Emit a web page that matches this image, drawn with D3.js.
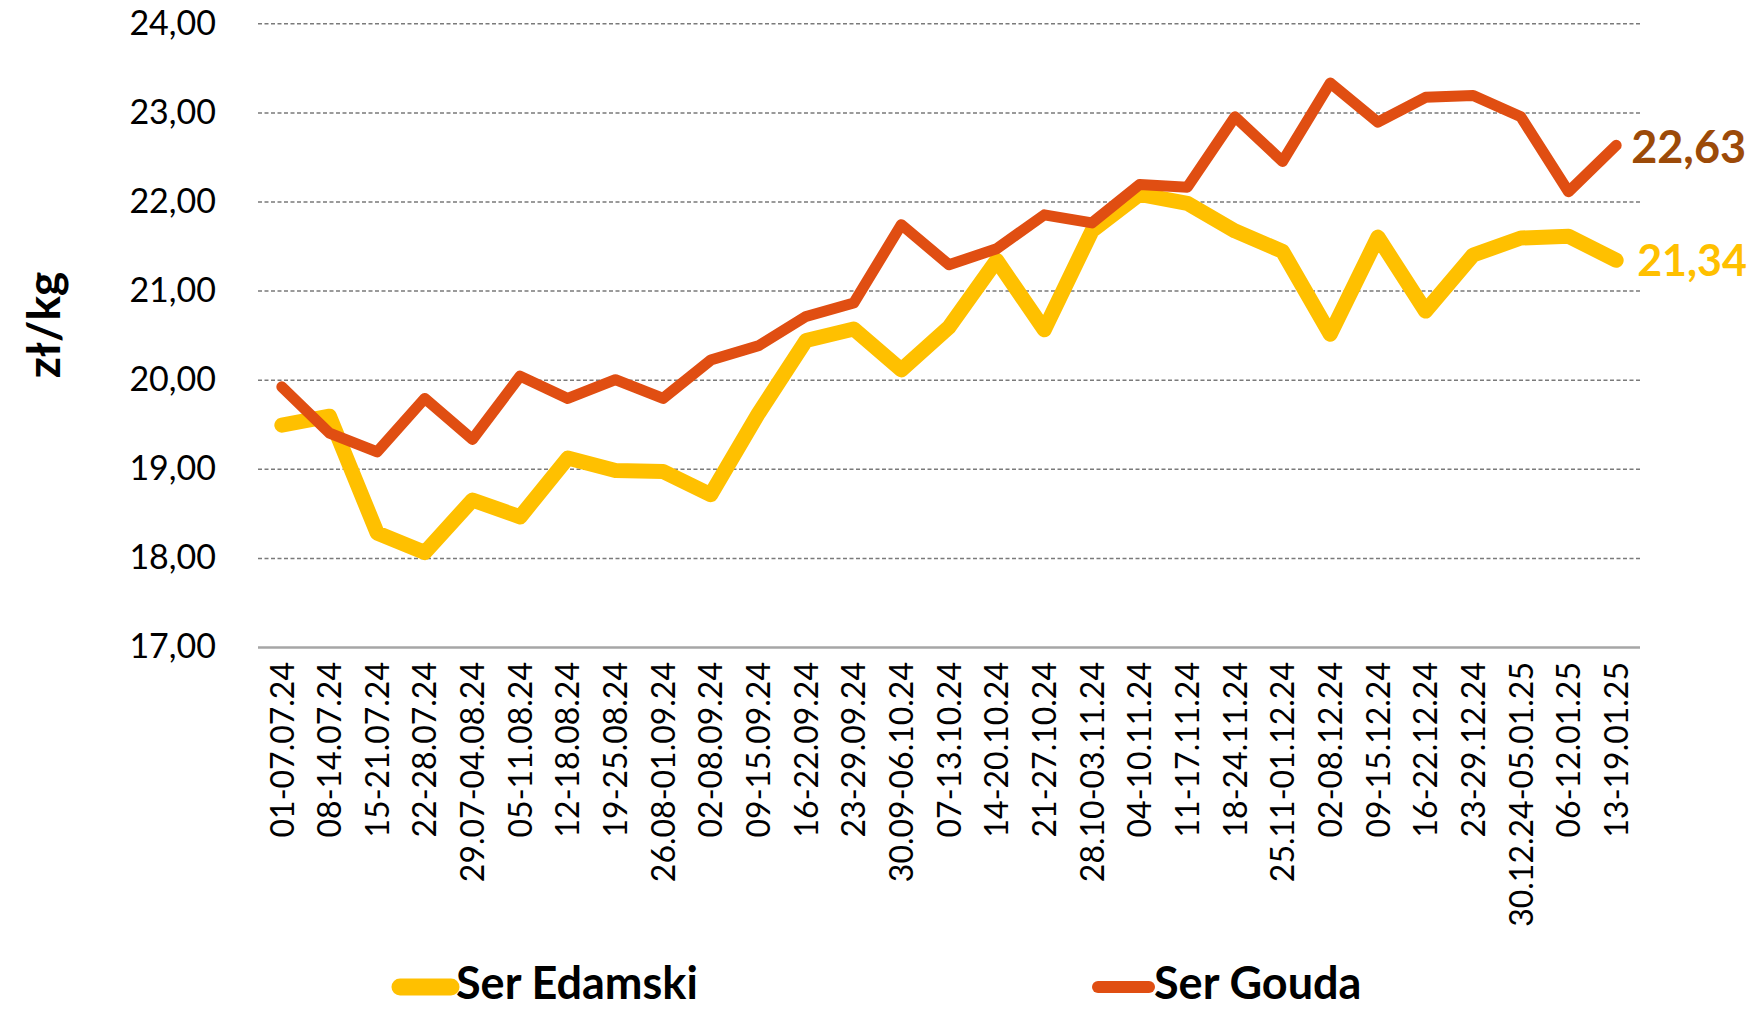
<!DOCTYPE html>
<html>
<head>
<meta charset="utf-8">
<script src="https://cdn.jsdelivr.net/npm/d3@7"></script>
<style>
  body { margin: 0; background: #fff; }
  svg { display: block; font-family: Lato, "Open Sans", sans-serif; }
</style>
</head>
<body>
<div id="chart"></div>
<script>
// tygodnie notowań
let categories = [
    "01-07.07.24", "08-14.07.24", "15-21.07.24", "22-28.07.24", "29.07-04.08.24",
    "05-11.08.24", "12-18.08.24", "19-25.08.24", "26.08-01.09.24", "02-08.09.24",
    "09-15.09.24", "16-22.09.24", "23-29.09.24", "30.09-06.10.24", "07-13.10.24",
    "14-20.10.24", "21-27.10.24", "28.10-03.11.24", "04-10.11.24", "11-17.11.24",
    "18-24.11.24", "25.11-01.12.24", "02-08.12.24", "09-15.12.24", "16-22.12.24",
    "23-29.12.24", "30.12.24-05.01.25", "06-12.01.25", "13-19.01.25"
];

// ceny zł/kg
let edamski = [
    19.49, 19.59, 18.28, 18.06, 18.65, 18.46, 19.12, 18.98, 18.97, 18.71,
    19.62, 20.44, 20.57, 20.11, 20.59, 21.34, 20.56, 21.67, 22.08, 21.98,
    21.67, 21.44, 20.51, 21.60, 20.77, 21.40, 21.59, 21.61, 21.34
];
let gouda = [
    19.92, 19.40, 19.19, 19.79, 19.33, 20.04, 19.79, 20.00, 19.79, 20.22,
    20.38, 20.71, 20.86, 21.74, 21.29, 21.47, 21.85, 21.76, 22.19, 22.16,
    22.95, 22.45, 23.33, 22.89, 23.17, 23.19, 22.95, 22.11, 22.63
];

let yTicks = [17, 18, 19, 20, 21, 22, 23, 24];

let width = 1751;
let height = 1009;
let plotLeft = 258, plotRight = 1640, plotTop = 23.3, plotBottom = 647;

let fmt = function (v) { return d3.format(".2f")(v).replace(".", ","); };

let svg = d3.select("#chart")
    .append("svg")
    .attr("width", width)
    .attr("height", height);

let x = d3.scalePoint().domain(categories).range([plotLeft, plotRight]).padding(0.5);
let y = d3.scaleLinear().domain([17, 24]).range([plotBottom, plotTop]);

// linie siatki
let grid = svg.append("g")
    .attr("transform", "translate(" + plotLeft + ",0)")
    .call(d3.axisLeft(y).tickValues(yTicks).tickSize(-(plotRight - plotLeft)).tickFormat(""));
grid.select(".domain").remove();
grid.selectAll("line")
    .attr("stroke", "#7a7a7a")
    .attr("stroke-width", 1.5)
    .attr("stroke-dasharray", "4,2.5");
grid.selectAll(".tick").filter(function (d) { return d === 17; }).select("line")
    .attr("stroke", "#a6a6a6")
    .attr("stroke-width", 2.5)
    .attr("stroke-dasharray", null);

// oś Y
let yAxis = svg.append("g")
    .attr("transform", "translate(" + plotLeft + ",0)")
    .call(d3.axisLeft(y).tickValues(yTicks).tickSize(0).tickPadding(42).tickFormat(fmt));
yAxis.select(".domain").remove();
yAxis.selectAll("text")
    .attr("font-size", "34px")
    .attr("fill", "#000")
    .attr("font-family", "Lato, sans-serif");

// oś X
let xAxis = svg.append("g")
    .attr("transform", "translate(0," + plotBottom + ")")
    .call(d3.axisBottom(x).tickSize(0));
xAxis.select(".domain").remove();
xAxis.selectAll("text")
    .attr("transform", "rotate(-90)")
    .attr("text-anchor", "end")
    .attr("x", -15)
    .attr("y", 0)
    .attr("dy", "0.35em")
    .attr("font-size", "32px")
    .attr("fill", "#000")
    .attr("font-family", "Lato, sans-serif");

// tytuł osi
svg.append("text")
    .attr("transform", "translate(60,325) rotate(-90)")
    .attr("text-anchor", "middle")
    .attr("font-size", "46px")
    .attr("font-weight", "bold")
    .attr("fill", "#000")
    .text("zł/kg");

// linie serii
let line = d3.line()
    .x(function (d, i) { return x(categories[i]); })
    .y(function (d) { return y(d); });

svg.append("path")
    .datum(edamski)
    .attr("d", line)
    .attr("fill", "none")
    .attr("stroke", "#ffc000")
    .attr("stroke-width", 15)
    .attr("stroke-linejoin", "round")
    .attr("stroke-linecap", "round");

svg.append("path")
    .datum(gouda)
    .attr("d", line)
    .attr("fill", "none")
    .attr("stroke", "#e04e12")
    .attr("stroke-width", 11)
    .attr("stroke-linejoin", "round")
    .attr("stroke-linecap", "round");

// etykiety ostatnich wartości
let last = categories[categories.length - 1];
svg.append("text")
    .attr("x", x(last) + 15)
    .attr("y", y(gouda[gouda.length - 1]))
    .attr("dy", "0.4em")
    .attr("font-size", "45px")
    .attr("font-weight", "bold")
    .attr("fill", "#9c4a08")
    .text(fmt(gouda[gouda.length - 1]));

svg.append("text")
    .attr("x", x(last) + 21)
    .attr("y", y(edamski[edamski.length - 1]))
    .attr("dy", "0.36em")
    .attr("font-size", "43px")
    .attr("font-weight", "bold")
    .attr("fill", "#ffc000")
    .text(fmt(edamski[edamski.length - 1]));

// legenda
let legend = [
    { name: "Ser Edamski", color: "#ffc000", w: 17, x0: 400, x1: 451 },
    { name: "Ser Gouda", color: "#e04e12", w: 12, x0: 1098, x1: 1149 }
];
legend.forEach(function (d) {
    svg.append("line")
        .attr("x1", d.x0).attr("x2", d.x1)
        .attr("y1", 987).attr("y2", 987)
        .attr("stroke", d.color)
        .attr("stroke-width", d.w)
        .attr("stroke-linecap", "round");
    svg.append("text")
        .attr("x", d.x1 + 5)
        .attr("y", 999)
        .attr("font-size", "45px")
        .attr("font-weight", "bold")
        .attr("fill", "#000")
        .text(d.name);
});
</script>
</body>
</html>
